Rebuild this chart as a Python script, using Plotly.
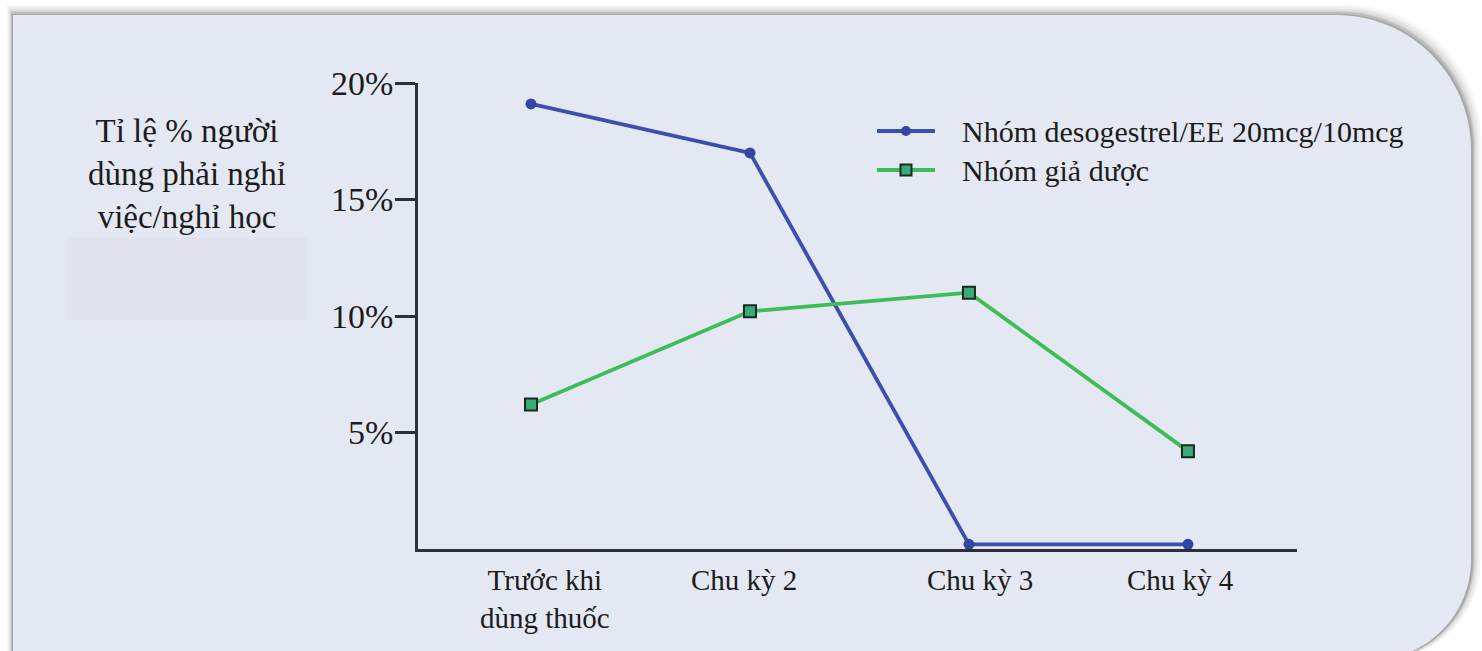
import plotly.graph_objects as go

# Data
categories = ["Trước khi<br>dùng thuốc", "Chu kỳ 2", "Chu kỳ 3", "Chu kỳ 4"]
desogestrel = [19.1, 17.0, 0.2, 0.2]
placebo = [6.2, 10.2, 11.0, 4.2]
series_names = ["Nhóm desogestrel/EE 20mcg/10mcg", "Nhóm giả dược"]
y_ticks = [5, 10, 15, 20]
y_tick_labels = ["5%", "10%", "15%", "20%"]
y_title = "Tỉ lệ % người<br>dùng phải nghỉ<br>việc/nghỉ học"

W, H = 1482, 651
FONT = "Liberation Serif"
TEXT = "#1C1C1C"
AXIS = "#2E3038"
BLUE_LINE, BLUE_MARK = "#3C4EAE", "#3346A8"
GREEN_LINE, GREEN_MARK, GREEN_EDGE = "#3CBD55", "#3AAA78", "#18291F"


def px(x):
    return x / W


def py(y):
    return 1 - y / H


positions = list(range(len(categories)))

fig = go.Figure()
fig.add_trace(go.Scatter(
    x=positions, y=desogestrel, name=series_names[0], mode="lines+markers",
    line=dict(color=BLUE_LINE, width=3.8),
    marker=dict(symbol="circle", size=11, color=BLUE_MARK),
    showlegend=False,
))
fig.add_trace(go.Scatter(
    x=positions, y=placebo, name=series_names[1], mode="lines+markers",
    line=dict(color=GREEN_LINE, width=3.8),
    marker=dict(symbol="square", size=12, color=GREEN_MARK,
                line=dict(color=GREEN_EDGE, width=2)),
    showlegend=False,
))


# Panel outline (rounded on the right side), expressed in pixel units
def panel_path(x0, y0, x1, y1, r_tr, r_br, k=0.5523):
    pts = [
        f"M {px(x0)} {py(y0)}",
        f"L {px(x1 - r_tr)} {py(y0)}",
        f"C {px(x1 - r_tr + k * r_tr)} {py(y0)} {px(x1)} {py(y0 + r_tr - k * r_tr)} {px(x1)} {py(y0 + r_tr)}",
        f"L {px(x1)} {py(y1 - r_br)}",
        f"C {px(x1)} {py(y1 - r_br + k * r_br)} {px(x1 - r_br + k * r_br)} {py(y1)} {px(x1 - r_br)} {py(y1)}",
        f"L {px(x0)} {py(y1)}",
        "Z",
    ]
    return " ".join(pts)


shapes = []
# soft drop shadow behind the panel
for dx, dy, op in [(10, -10, 0.04), (8, -8, 0.05), (6, -6, 0.07), (4, -4, 0.10),
                   (3, -3, 0.12), (2, -1, 0.16)]:
    shapes.append(dict(type="path", xref="paper", yref="paper", layer="below",
                       path=panel_path(13 - dx * 0.6, 15 + dy, 1471 + dx, 660, 135, 100),
                       fillcolor=f"rgba(60,60,60,{op})", line=dict(width=0)))
shapes.append(dict(type="path", xref="paper", yref="paper", layer="below",
                   path=panel_path(13, 15, 1471, 660, 135, 100),
                   fillcolor="#E4E8F2", line=dict(width=0)))
shapes.append(dict(type="rect", xref="paper", yref="paper", layer="below",
                   x0=px(67), x1=px(307), y0=py(320), y1=py(237),
                   fillcolor="#E1E4EC", line=dict(width=0)))

# Legend drawn by hand
legend_rows = [131, 170]
lx0, lx1, ltext = 877, 935, 960
lmid = (lx0 + lx1) / 2
shapes += [
    dict(type="line", xref="paper", yref="paper", x0=px(lx0), x1=px(lx1),
         y0=py(legend_rows[0]), y1=py(legend_rows[0]),
         line=dict(color=BLUE_LINE, width=3.8)),
    dict(type="circle", xref="paper", yref="paper",
         x0=px(lmid - 5), x1=px(lmid + 5),
         y0=py(legend_rows[0] + 5), y1=py(legend_rows[0] - 5),
         fillcolor=BLUE_MARK, line=dict(width=0)),
    dict(type="line", xref="paper", yref="paper", x0=px(lx0), x1=px(lx1),
         y0=py(legend_rows[1]), y1=py(legend_rows[1]),
         line=dict(color=GREEN_LINE, width=3.8)),
    dict(type="rect", xref="paper", yref="paper",
         x0=px(lmid - 5.5), x1=px(lmid + 5.5),
         y0=py(legend_rows[1] + 5.5), y1=py(legend_rows[1] - 5.5),
         fillcolor=GREEN_MARK, line=dict(color=GREEN_EDGE, width=2)),
]

annotations = [dict(
    text=y_title, xref="paper", yref="paper", x=px(187), y=py(174),
    xanchor="center", yanchor="middle", showarrow=False, align="center",
    font=dict(family=FONT, size=33, color=TEXT),
)]
for name, row in zip(series_names, legend_rows):
    annotations.append(dict(
        text=name, xref="paper", yref="paper", x=px(ltext), y=py(row),
        xanchor="left", yanchor="middle", showarrow=False,
        font=dict(family=FONT, size=30, color=TEXT),
    ))
label_shift = [14, -6, 11, -7]
for pos, lab, sh in zip(positions, categories, label_shift):
    annotations.append(dict(
        text=lab, x=pos, xref="x", yref="paper", y=py(562), xshift=sh,
        xanchor="center", yanchor="top", showarrow=False, align="center",
        font=dict(family=FONT, size=29, color=TEXT),
    ))

fig.update_layout(
    width=W, height=H,
    margin=dict(l=0, r=0, t=0, b=0, autoexpand=False),
    paper_bgcolor="white", plot_bgcolor="rgba(0,0,0,0)",
    shapes=shapes, annotations=annotations,
    showlegend=False,
    xaxis=dict(domain=[px(418), px(1297)], range=[-0.516, 3.498],
               automargin=False,
               showgrid=False, zeroline=False, showticklabels=False,
               showline=True, linecolor=AXIS, linewidth=2.5, ticks=""),
    yaxis=dict(domain=[py(549), py(83)], range=[0, 20],
               automargin=False,
               showgrid=False, zeroline=False,
               tickvals=y_ticks, ticktext=y_tick_labels,
               ticks="outside", ticklen=20, tickwidth=2.5, tickcolor=AXIS,
               ticklabelstandoff=-5,
               showline=True, linecolor=AXIS, linewidth=2.5,
               tickfont=dict(family=FONT, size=34, color=TEXT)),
)

fig.write_html("out.html")
